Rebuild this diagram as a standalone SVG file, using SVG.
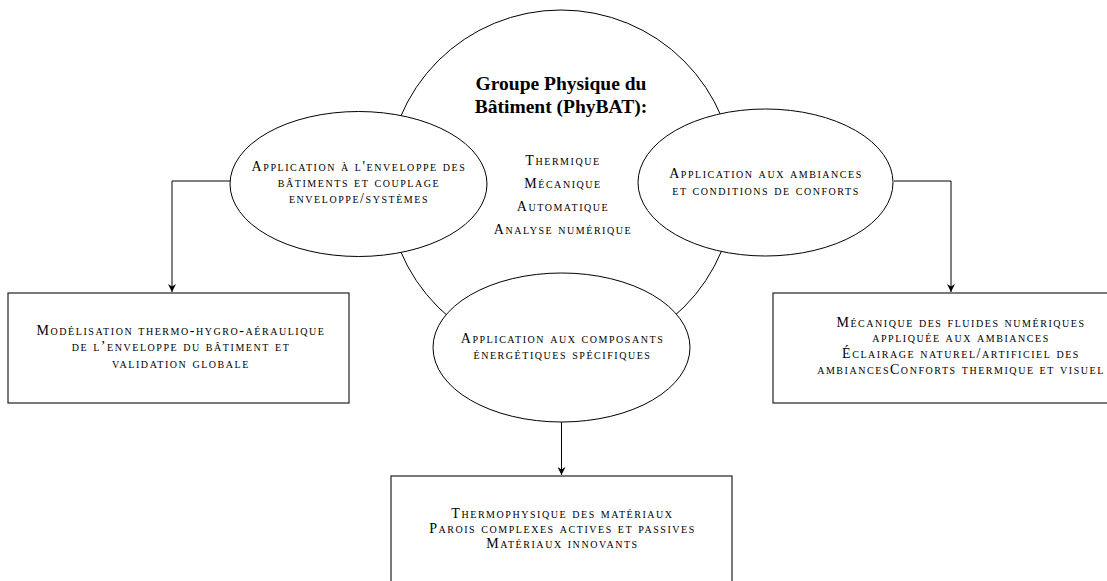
<svg xmlns="http://www.w3.org/2000/svg" width="1107" height="581" viewBox="0 0 1107 581">
<defs>
<style>
.shape{fill:#fff;stroke:#000;stroke-width:1}
.box{fill:#fff;stroke:#222;stroke-width:1.2}
.conn{fill:none;stroke:#000;stroke-width:1}
.sc{font-family:"Liberation Serif","DejaVu Serif",serif;font-variant:small-caps;font-size:14px;letter-spacing:1.55px;fill:#000;text-anchor:middle}
.title{font-family:"Liberation Serif","DejaVu Serif",serif;font-weight:bold;font-size:19.5px;fill:#000;text-anchor:middle}
</style>
<marker id="arr" viewBox="0 0 10 10" refX="10" refY="5" markerWidth="8" markerHeight="8" markerUnits="userSpaceOnUse" orient="auto">
<path d="M0,0 L10,5 L0,10 L3,5 Z" fill="#000"/>
</marker>
</defs>
<rect width="1107" height="581" fill="#fff"/>
<g id="center">
<circle class="shape" cx="561" cy="184" r="174"/>
<text class="title" x="561" y="90">Groupe Physique du</text>
<text class="title" x="561" y="113">Bâtiment (PhyBAT):</text>
<text class="sc" x="563" y="165">Thermique</text>
<text class="sc" x="563" y="188">Mécanique</text>
<text class="sc" x="563" y="211">Automatique</text>
<text class="sc" x="563" y="234">Analyse numérique</text>
</g>
<g id="connectors">
<path class="conn" d="M230,181 H172 V292" marker-end="url(#arr)"/>
<path class="conn" d="M894,181 H951 V292" marker-end="url(#arr)"/>
<path class="conn" d="M561.5,422 V475" marker-end="url(#arr)"/>
</g>
<g id="env">
<ellipse class="shape" cx="358.5" cy="184" rx="128.5" ry="72.5"/>
<text class="sc" x="359" y="171">Application à l'enveloppe des</text>
<text class="sc" x="359" y="187">bâtiments et couplage</text>
<text class="sc" x="359" y="203">enveloppe/systèmes</text>
</g>
<g id="amb">
<ellipse class="shape" cx="765.5" cy="182.5" rx="127.5" ry="73.5"/>
<text class="sc" x="766" y="178">Application aux ambiances</text>
<text class="sc" x="766" y="195">et conditions de conforts</text>
</g>
<g id="comp">
<ellipse class="shape" cx="561.5" cy="347.5" rx="128.5" ry="74.5"/>
<text class="sc" x="562.5" y="343">Application aux composants</text>
<text class="sc" x="562.5" y="359">énergétiques spécifiques</text>
</g>
<g id="box-left">
<rect class="box" x="8" y="293" width="341" height="110"/>
<text class="sc" x="181" y="335">Modélisation thermo-hygro-aéraulique</text>
<text class="sc" x="181" y="351">de l’enveloppe du bâtiment et</text>
<text class="sc" x="181" y="368">validation globale</text>
</g>
<g id="box-right">
<rect class="box" x="773" y="293" width="340" height="110"/>
<text class="sc" x="961" y="327">Mécanique des fluides numériques</text>
<text class="sc" x="961" y="342">appliquée aux ambiances</text>
<text class="sc" x="961" y="358">Éclairage naturel/artificiel des</text>
<text class="sc" x="961" y="374">ambiancesConforts thermique et visuel</text>
</g>
<g id="box-bottom">
<rect class="box" x="391" y="476" width="341" height="120"/>
<text class="sc" x="562.5" y="518">Thermophysique des matériaux</text>
<text class="sc" x="562.5" y="533">Parois complexes actives et passives</text>
<text class="sc" x="562.5" y="548">Matériaux innovants</text>
</g>
</svg>
